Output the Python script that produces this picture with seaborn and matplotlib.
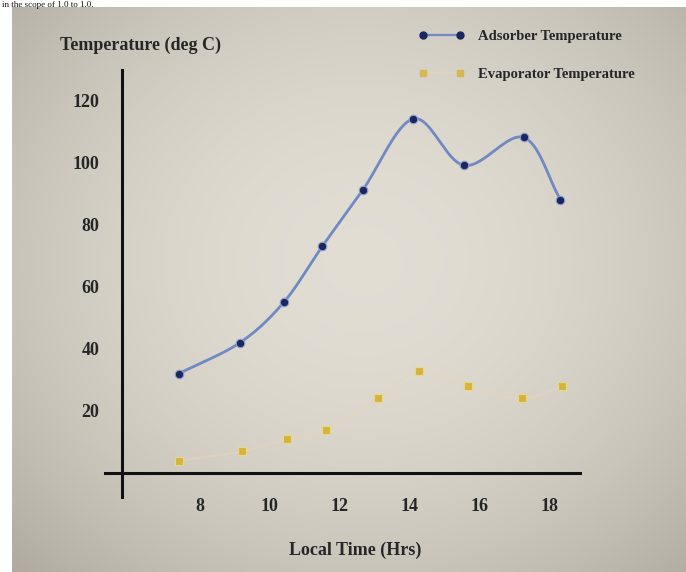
"""Adsorber / evaporator temperature over the day (photo of an Excel chart)."""

import matplotlib

matplotlib.use("Agg")
import matplotlib.pyplot as plt
import numpy as np
import pandas as pd
import seaborn as sns
from matplotlib.lines import Line2D

# values
ads_hours = [7.4, 9.15, 10.4, 11.5, 12.65, 14.1, 15.55, 17.25, 18.3]
ads_temp = [32, 42, 55, 73, 91, 114, 99, 108, 88]
evap_hours = [7.4, 9.2, 10.5, 11.6, 13.1, 14.25, 15.65, 17.2, 18.35]
evap_temp = [4, 7, 11, 14, 24, 33, 28, 24, 28]
x_ticks = [8, 10, 12, 14, 16, 18]
y_ticks = [20, 40, 60, 80, 100, 120]

BLUE_LINE = "#7089c0"
BLUE_MARK = "#1b275e"
YELLOW = "#d6b33c"


def smooth(x, y, n=24):
    """Catmull-Rom curve through the points, like Excel's smoothed line."""
    p = np.column_stack([x, y]).astype(float)
    p = np.vstack([2 * p[0] - p[1], p, 2 * p[-1] - p[-2]])
    t = np.linspace(0, 1, n)[:, None]
    out = []
    for i in range(len(p) - 3):
        p0, p1, p2, p3 = p[i], p[i + 1], p[i + 2], p[i + 3]
        seg = 0.5 * (2 * p1 + (p2 - p0) * t + (2 * p0 - 5 * p1 + 4 * p2 - p3) * t**2
                     + (3 * p1 - p0 - 3 * p2 + p3) * t**3)
        out.append(seg)
    out = np.vstack(out)
    return out[:, 0], out[:, 1]


sns.set_style("white")
plt.rcParams["font.family"] = ["Liberation Serif", "DejaVu Serif"]
plt.rcParams["font.weight"] = "bold"

fig = plt.figure(figsize=(6.86, 5.72), dpi=100, facecolor="white")

# photo background with a soft vignette
bg = fig.add_axes([12 / 686, 0, 674 / 686, 565 / 572])
yy, xx = np.mgrid[0:1:200j, 0:1:240j]
r = np.sqrt(((xx - 0.52) / 0.75) ** 2 + ((yy - 0.45) / 0.8) ** 2)
shade = np.clip(1 - 0.58 * r**2, 0, 1)[..., None]
light = np.array([0.885, 0.868, 0.83])
dark = np.array([0.53, 0.505, 0.46])
bg.imshow(dark + (light - dark) * shade, aspect="auto", extent=(0, 1, 0, 1))
bg.set_axis_off()

# caption line of the page above the photo (cut off in the source)
fig.text(0.003, 1 - 7 / 572, "in the scope of 1.0 to 1.0.", fontsize=6.5,
         fontweight="normal", va="baseline", ha="left", color="#111111", zorder=5)

ax = fig.add_axes([105 / 686, 75 / 572, 475 / 686, 427 / 572])
ax.set_facecolor("none")

ads = pd.DataFrame({"hour": ads_hours, "temp": ads_temp})
evap = pd.DataFrame({"hour": evap_hours, "temp": evap_temp})

sx, sy = smooth(ads_hours, ads_temp)
ax.plot(sx, sy, color=BLUE_LINE, lw=2.0, zorder=2)
ex, ey = smooth(evap_hours, evap_temp)
ax.plot(ex, ey, color="#e6d6b8", lw=1.6, alpha=0.45, zorder=1)

sns.scatterplot(data=ads, x="hour", y="temp", ax=ax, color=BLUE_MARK, s=38,
                edgecolor="#8fa3d0", linewidth=0.8, zorder=3)
sns.scatterplot(data=evap, x="hour", y="temp", ax=ax, color=YELLOW, marker="s", s=34,
                edgecolor="#e8d88a", linewidth=0.8, zorder=3)

ax.set_xlim(5.29, 18.86)
ax.set_ylim(-7.7, 129.7)
for side in ["top", "right"]:
    ax.spines[side].set_visible(False)
ax.spines["left"].set_position(("data", 5.77))
ax.spines["bottom"].set_position(("data", 0))
for side in ["left", "bottom"]:
    ax.spines[side].set_linewidth(2.2)
    ax.spines[side].set_color("#111111")

ax.set_xticks(x_ticks)
ax.set_yticks(y_ticks)
ax.tick_params(axis="x", direction="out", length=6, width=2, pad=12, labelsize=13)
ax.tick_params(axis="y", direction="out", length=6, width=2, pad=10, labelsize=13)
ax.set_xlabel("")
ax.set_ylabel("")

fig.text(60 / 686, 1 - 45 / 572, "Temperature (deg C)", fontsize=13, va="center", ha="left")
fig.text(355 / 686, 1 - 550 / 572, "Local Time (Hrs)", fontsize=13, va="center", ha="center")

handles = [
    Line2D([], [], color=BLUE_LINE, lw=1.6, marker="o", markersize=5,
           markerfacecolor=BLUE_MARK, markeredgecolor=BLUE_MARK),
    Line2D([], [], color="#e6d6b8", lw=1.2, alpha=0.8, marker="s", markersize=5,
           markerfacecolor=YELLOW, markeredgecolor=YELLOW),
]
ax.legend(handles, ["Adsorber Temperature", "Evaporator Temperature"],
          loc="upper left", bbox_to_anchor=(405 / 686, 1 - 17 / 572),
          bbox_transform=fig.transFigure, frameon=False, fontsize=10.5,
          handlelength=3.2, handletextpad=0.9, labelspacing=1.7, numpoints=2)

fig.savefig("out.png", dpi=100, facecolor=fig.get_facecolor())
